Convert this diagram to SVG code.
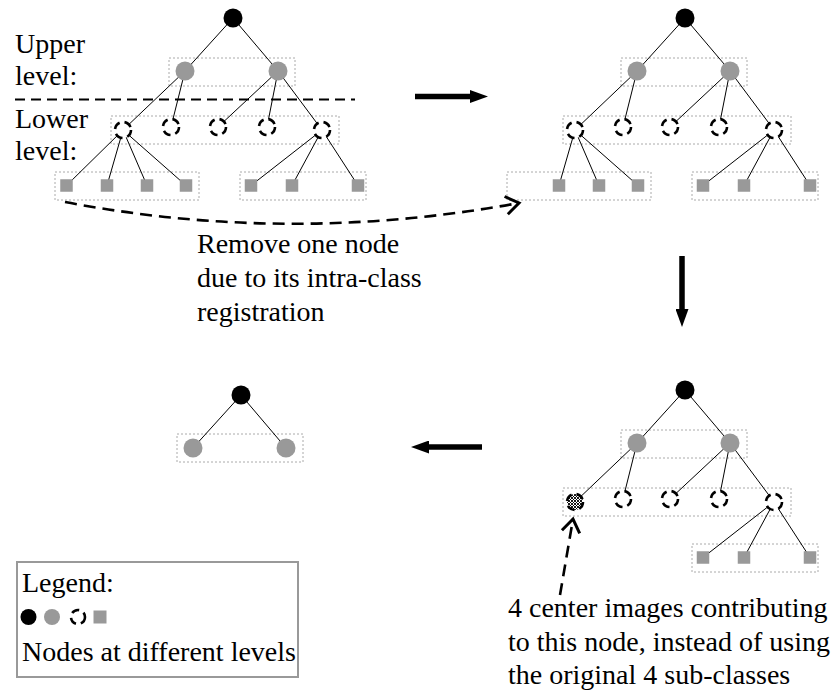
<svg xmlns="http://www.w3.org/2000/svg" width="835" height="690" viewBox="0 0 835 690">
  <style>
    .lbl { font-family: 'Liberation Serif', Tinos, 'Times New Roman', serif; font-size: 28px; fill: #000; }
    .grp { fill: none; stroke: #aaa; stroke-width: 1; stroke-dasharray: 2 2; }
    .edge { stroke: #000; stroke-width: 1; fill: none; }
    .n0 { fill: #000; }
    .n1 { fill: #999; }
    .n2 { fill: #fff; stroke: #000; stroke-width: 2.6; stroke-dasharray: 8 5; }
    .n2h { fill: url(#mesh); stroke: #000; stroke-width: 2.6; stroke-dasharray: 8 5; }
    .n3 { fill: #999; }
    .bold { stroke: #000; stroke-width: 5.5; fill: none; }
    .dash { stroke: #000; stroke-width: 2.6; fill: none; stroke-dasharray: 12 7; }
    .sep { stroke: #000; stroke-width: 2; fill: none; stroke-dasharray: 10 6; }
  </style>
  <defs>
    <marker id="head" markerUnits="userSpaceOnUse" markerWidth="18" markerHeight="13" refX="0" refY="6.5" orient="auto">
      <path d="M0,0 L18,6.5 L0,13 z" fill="#000"/>
    </marker>
    <marker id="chev" markerUnits="userSpaceOnUse" markerWidth="20" markerHeight="22" refX="15" refY="11" orient="auto">
      <path d="M2,2 L15,11 L2,20" fill="none" stroke="#000" stroke-width="3"/>
    </marker>
    <pattern id="mesh" width="3" height="3" patternUnits="userSpaceOnUse">
      <rect width="3" height="3" fill="#fff"/>
      <path d="M0,0 L3,3 M3,0 L0,3" stroke="#000" stroke-width="0.9"/>
    </pattern>
  </defs>

  <!-- level separator and labels -->
  <line class="sep" x1="15" y1="99.5" x2="355" y2="99.5"/>
  <text class="lbl" x="15" y="53">Upper</text>
  <text class="lbl" x="15" y="85">level:</text>
  <text class="lbl" x="15" y="128">Lower</text>
  <text class="lbl" x="15" y="160">level:</text>

  <!-- grouping boxes -->
  <g id="boxes">
    <rect class="grp" x="169" y="58" width="126" height="28"/>
    <rect class="grp" x="111" y="116" width="228" height="28"/>
    <rect class="grp" x="55" y="172" width="144" height="28"/>
    <rect class="grp" x="240" y="172" width="126" height="28"/>

    <rect class="grp" x="621" y="58" width="126" height="28"/>
    <rect class="grp" x="563" y="116" width="228" height="28"/>
    <rect class="grp" x="507" y="172" width="144" height="28"/>
    <rect class="grp" x="692" y="172" width="126" height="28"/>

    <rect class="grp" x="621" y="430" width="126" height="28"/>
    <rect class="grp" x="563" y="488" width="228" height="28"/>
    <rect class="grp" x="692" y="544" width="126" height="28"/>

    <rect class="grp" x="177" y="434" width="126" height="28"/>
  </g>

  <!-- connectors -->
  <g id="connectors">
    <g transform="translate(0,0)">
      <path class="edge" d="M233,18 L185,71 M233,18 L278,71 M185,71 L123,130 M185,71 L171,127 M278,71 L218,127 M278,71 L267,127 M278,71 L322,130"/>
      <path class="edge" d="M123,130 L66.5,185.5 M123,130 L107,185.5 M123,130 L147,185.5 M123,130 L186,185.5 M322,130 L251,185.5 M322,130 L292,185.5 M322,130 L358,185.5"/>
    </g>
    <g transform="translate(452,0)">
      <path class="edge" d="M233,18 L185,71 M233,18 L278,71 M185,71 L123,130 M185,71 L171,127 M278,71 L218,127 M278,71 L267,127 M278,71 L322,130"/>
      <path class="edge" d="M123,130 L107,185.5 M123,130 L147,185.5 M123,130 L186,185.5 M322,130 L251,185.5 M322,130 L292,185.5 M322,130 L358,185.5"/>
    </g>
    <g transform="translate(452,372)">
      <path class="edge" d="M233,18 L185,71 M233,18 L278,71 M185,71 L123,130 M185,71 L171,127 M278,71 L218,127 M278,71 L267,127 M278,71 L322,130"/>
      <path class="edge" d="M322,130 L251,185.5 M322,130 L292,185.5 M322,130 L358,185.5"/>
    </g>
    <g transform="translate(8,377)">
      <path class="edge" d="M233,18 L185,71 M233,18 L278,71"/>
    </g>

    <!-- step arrows -->
    <line class="bold" x1="415" y1="96.5" x2="470" y2="96.5" marker-end="url(#head)"/>
    <line class="bold" x1="682" y1="256" x2="682" y2="309" marker-end="url(#head)"/>
    <line class="bold" x1="482" y1="447" x2="429" y2="447" marker-end="url(#head)"/>

    <!-- annotation arrows -->
    <path class="dash" d="M65,202 Q290,245 519,203" marker-end="url(#chev)"/>
    <path class="dash" d="M560,595 L573,519" marker-end="url(#chev)"/>
  </g>

  <!-- tree before removal -->
  <g id="treeA">
    <g id="a-root"><circle class="n0" cx="233" cy="18" r="9.5"/></g>
    <g id="a-u1"><circle class="n1" cx="185" cy="71" r="9.5"/></g>
    <g id="a-u2"><circle class="n1" cx="278" cy="71" r="9.5"/></g>
    <g id="a-l1"><circle class="n2" cx="123" cy="130" r="8"/></g>
    <g id="a-l2"><circle class="n2" cx="171" cy="127" r="8"/></g>
    <g id="a-l3"><circle class="n2" cx="218" cy="127" r="8"/></g>
    <g id="a-l4"><circle class="n2" cx="267" cy="127" r="8"/></g>
    <g id="a-l5"><circle class="n2" cx="322" cy="130" r="8"/></g>
    <g id="a-s1"><rect class="n3" x="60.25" y="179.25" width="12.5" height="12.5"/></g>
    <g id="a-s2"><rect class="n3" x="100.75" y="179.25" width="12.5" height="12.5"/></g>
    <g id="a-s3"><rect class="n3" x="140.75" y="179.25" width="12.5" height="12.5"/></g>
    <g id="a-s4"><rect class="n3" x="179.75" y="179.25" width="12.5" height="12.5"/></g>
    <g id="a-s5"><rect class="n3" x="244.75" y="179.25" width="12.5" height="12.5"/></g>
    <g id="a-s6"><rect class="n3" x="285.75" y="179.25" width="12.5" height="12.5"/></g>
    <g id="a-s7"><rect class="n3" x="351.75" y="179.25" width="12.5" height="12.5"/></g>
  </g>

  <!-- tree after removing one leaf -->
  <g id="treeB" transform="translate(452,0)">
    <g id="b-root"><circle class="n0" cx="233" cy="18" r="9.5"/></g>
    <g id="b-u1"><circle class="n1" cx="185" cy="71" r="9.5"/></g>
    <g id="b-u2"><circle class="n1" cx="278" cy="71" r="9.5"/></g>
    <g id="b-l1"><circle class="n2" cx="123" cy="130" r="8"/></g>
    <g id="b-l2"><circle class="n2" cx="171" cy="127" r="8"/></g>
    <g id="b-l3"><circle class="n2" cx="218" cy="127" r="8"/></g>
    <g id="b-l4"><circle class="n2" cx="267" cy="127" r="8"/></g>
    <g id="b-l5"><circle class="n2" cx="322" cy="130" r="8"/></g>
    <g id="b-s2"><rect class="n3" x="100.75" y="179.25" width="12.5" height="12.5"/></g>
    <g id="b-s3"><rect class="n3" x="140.75" y="179.25" width="12.5" height="12.5"/></g>
    <g id="b-s4"><rect class="n3" x="179.75" y="179.25" width="12.5" height="12.5"/></g>
    <g id="b-s5"><rect class="n3" x="244.75" y="179.25" width="12.5" height="12.5"/></g>
    <g id="b-s6"><rect class="n3" x="285.75" y="179.25" width="12.5" height="12.5"/></g>
    <g id="b-s7"><rect class="n3" x="351.75" y="179.25" width="12.5" height="12.5"/></g>
  </g>

  <!-- tree with merged centre node -->
  <g id="treeC" transform="translate(452,372)">
    <g id="c-root"><circle class="n0" cx="233" cy="18" r="9.5"/></g>
    <g id="c-u1"><circle class="n1" cx="185" cy="71" r="9.5"/></g>
    <g id="c-u2"><circle class="n1" cx="278" cy="71" r="9.5"/></g>
    <g id="c-l1"><circle class="n2h" cx="123" cy="130" r="8"/></g>
    <g id="c-l2"><circle class="n2" cx="171" cy="127" r="8"/></g>
    <g id="c-l3"><circle class="n2" cx="218" cy="127" r="8"/></g>
    <g id="c-l4"><circle class="n2" cx="267" cy="127" r="8"/></g>
    <g id="c-l5"><circle class="n2" cx="322" cy="130" r="8"/></g>
    <g id="c-s5"><rect class="n3" x="244.75" y="179.25" width="12.5" height="12.5"/></g>
    <g id="c-s6"><rect class="n3" x="285.75" y="179.25" width="12.5" height="12.5"/></g>
    <g id="c-s7"><rect class="n3" x="351.75" y="179.25" width="12.5" height="12.5"/></g>
  </g>

  <!-- upper level only -->
  <g id="treeD" transform="translate(8,377)">
    <g id="d-root"><circle class="n0" cx="233" cy="18" r="9.5"/></g>
    <g id="d-u1"><circle class="n1" cx="185" cy="71" r="9.5"/></g>
    <g id="d-u2"><circle class="n1" cx="278" cy="71" r="9.5"/></g>
  </g>

  <!-- annotations -->
  <text class="lbl" x="197" y="253">Remove one node</text>
  <text class="lbl" x="197" y="287">due to its intra-class</text>
  <text class="lbl" x="197" y="321">registration</text>

  <text class="lbl" x="508" y="617">4 center images contributing</text>
  <text class="lbl" x="508" y="651">to this node, instead of using</text>
  <text class="lbl" x="508" y="684">the original 4 sub-classes</text>

  <!-- legend -->
  <g id="legend">
    <rect x="17" y="562" width="281" height="115" fill="none" stroke="#999" stroke-width="2"/>
    <text class="lbl" x="22" y="592">Legend:</text>
    <circle class="n0" cx="28.5" cy="617" r="8"/>
    <circle class="n1" cx="52" cy="617" r="8"/>
    <circle class="n2" cx="78" cy="617" r="7"/>
    <rect class="n3" x="93.5" y="610.5" width="13" height="13"/>
    <text class="lbl" x="22" y="661">Nodes at different levels</text>
  </g>
</svg>
